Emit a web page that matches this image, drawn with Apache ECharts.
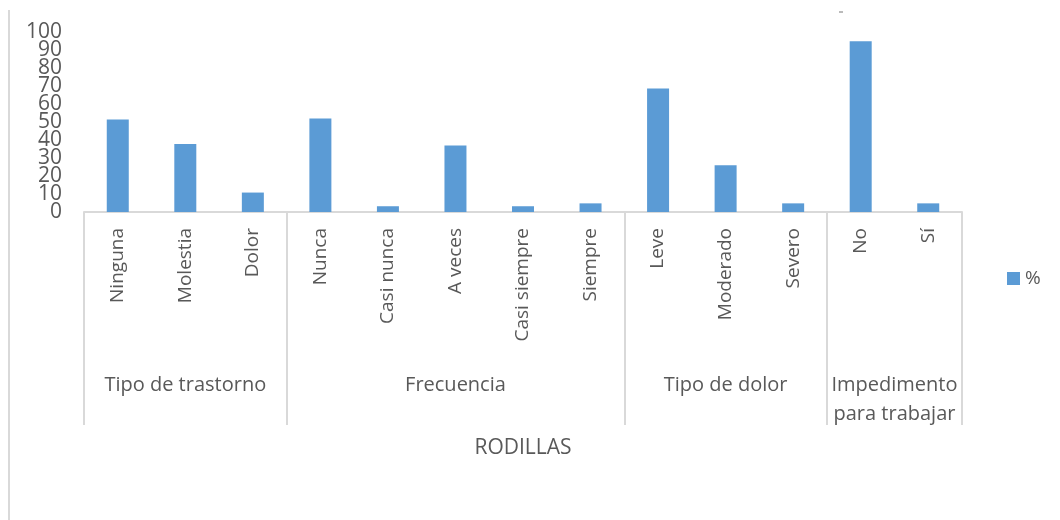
<!DOCTYPE html>
<html>
<head>
<meta charset="utf-8">
<script src="https://cdn.jsdelivr.net/npm/echarts@6/dist/echarts.min.js"></script>
<style>
html,body{margin:0;padding:0;background:#fff;}
#chart{width:1060px;height:520px;}
</style>
</head>
<body>
<div id="chart"></div>
<script>
var categories = ['Ninguna','Molestia','Dolor','Nunca','Casi nunca','A veces','Casi siempre','Siempre','Leve','Moderado','Severo','No','Sí'];
var values = [51.4, 37.8, 10.8, 52.0, 3.2, 37.0, 3.2, 4.8, 68.6, 26.0, 4.8, 94.8, 4.8];
var groups = ['Tipo de trastorno','Frecuencia','Tipo de dolor','Impedimento\npara trabajar'];
var groupSizes = [3, 5, 3, 2];
var yTicks = [0, 10, 20, 30, 40, 50, 60, 70, 80, 90, 100];
var seriesName = '%';
var axisTitle = 'RODILLAS';

var boundaries = [0];
var centers = [];
var acc = 0;
groupSizes.forEach(function (n) {
  centers.push(acc + n / 2);
  acc += n;
  boundaries.push(acc);
});
var total = acc;
var yEven = yTicks.filter(function (v, i) { return i % 2 === 0; });
var yOdd = yTicks.filter(function (v, i) { return i % 2 === 1; });

var grey = '#595959';
var lineGrey = '#d9d9d9';
var font = 'Open Sans';

function yAxisDef(vals) {
  return {
    type: 'value',
    position: 'left',
    offset: 0,
    min: yTicks[0], max: yTicks[yTicks.length - 1], interval: 10,
    axisLine: {show: false},
    axisTick: {show: false},
    splitLine: {show: false},
    axisLabel: {
      margin: 22, color: grey, fontFamily: font, fontSize: 21,
      customValues: vals,
      showMinLabel: true, showMaxLabel: true
    }
  };
}

var chart = echarts.init(document.getElementById('chart'), null, {renderer: 'canvas'});
chart.setOption({
  animation: false,
  backgroundColor: '#ffffff',
  grid: {left: 84, right: 98, top: 32, bottom: 308, containLabel: false},
  legend: {
    data: [seriesName],
    left: 1002, top: 264,
    itemWidth: 13, itemHeight: 13, itemGap: 6,
    icon: 'rect',
    textStyle: {color: grey, fontFamily: font, fontSize: 19, padding: [0,0,0,0]}
  },
  xAxis: [
    {
      type: 'category',
      data: categories,
      position: 'bottom',
      boundaryGap: true,
      axisLine: {show: true, lineStyle: {color: lineGrey, width: 2}},
      axisTick: {show: false},
      splitLine: {show: false},
      axisLabel: {interval: 0, rotate: 90, margin: 16, color: grey, fontFamily: font, fontSize: 19}
    },
    {
      type: 'value',
      min: 0, max: total,
      position: 'bottom',
      axisLine: {show: false},
      splitLine: {show: false},
      axisTick: {show: true, customValues: boundaries, length: 213, lineStyle: {color: lineGrey, width: 2}},
      axisLabel: {
        show: true, customValues: centers, margin: 159,
        color: grey, fontFamily: font, fontSize: 20, lineHeight: 29,
        formatter: function (v) {
          var i = centers.indexOf(v);
          return i >= 0 ? groups[i] : '';
        }
      },
      name: axisTitle,
      nameLocation: 'middle',
      nameGap: 226,
      nameTextStyle: {color: grey, fontFamily: font, fontSize: 21}
    }
  ],
  yAxis: [yAxisDef(yEven), yAxisDef(yOdd)],
  series: [{
    name: seriesName,
    type: 'bar',
    xAxisIndex: 0,
    yAxisIndex: 0,
    data: values,
    barWidth: 22,
    itemStyle: {color: '#5b9bd5'}
  }],
  graphic: [
    {type: 'line', shape: {x1: 9, y1: 10, x2: 9, y2: 520}, style: {stroke: lineGrey, lineWidth: 2}, silent: true},
    {type: 'line', shape: {x1: 839, y1: 12, x2: 843, y2: 12}, style: {stroke: '#777', lineWidth: 1}, silent: true}
  ]
});
</script>
</body>
</html>
